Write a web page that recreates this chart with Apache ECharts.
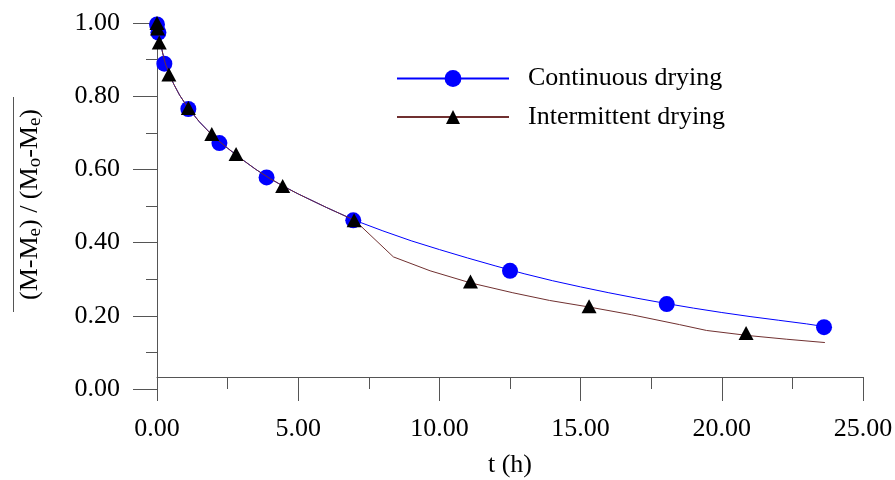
<!DOCTYPE html>
<html>
<head>
<meta charset="utf-8">
<script src="https://cdn.jsdelivr.net/npm/echarts@6/dist/echarts.min.js"></script>
<style>
html,body{margin:0;padding:0;background:#fff;}
#chart{width:895px;height:480px;}
</style>
</head>
<body>
<div id="chart"></div>
<script>
// Experimental points
const contT = [0, 0.05, 0.26, 1.11, 2.21, 3.88, 6.95, 12.5, 18.05, 23.62];
const contV = [0.996, 0.974, 0.889, 0.765, 0.672, 0.578, 0.461, 0.323, 0.232, 0.169];
const intT = [0, 0.02, 0.08, 0.42, 1.11, 1.94, 2.80, 4.45, 6.98, 11.1, 15.3, 20.86];
const intV = [1.0, 0.985, 0.947, 0.859, 0.768, 0.697, 0.642, 0.555, 0.461, 0.294, 0.226, 0.153];
// Model curves
const contLineT = [0,0.05,0.1,0.2,0.3,0.45,0.6,0.8,1.1,1.5,2,2.5,3,3.5,4,4.5,5,6,7,8,9,10,11,12,13,14,15,16,17,18,19,20,21,22,23,23.6];
const contLineV = [1.0,0.975,0.955,0.918,0.888,0.857,0.832,0.803,0.768,0.73,0.69,0.658,0.628,0.6,0.575,0.553,0.533,0.496,0.461,0.432,0.405,0.381,0.358,0.336,0.315,0.296,0.279,0.263,0.248,0.234,0.221,0.209,0.198,0.188,0.178,0.171];
const intLineT = [0,0.05,0.1,0.2,0.3,0.45,0.6,0.8,1.1,1.5,2,2.5,3,3.5,4,4.5,5,6,7,8.37,9.67,11.1,12.6,13.9,15.3,16.8,18.5,19.46,20.95,22.3,23.65];
const intLineV = [1.0,0.975,0.955,0.918,0.888,0.857,0.832,0.803,0.768,0.73,0.69,0.658,0.628,0.6,0.575,0.553,0.533,0.496,0.461,0.361,0.323,0.29,0.263,0.242,0.224,0.203,0.176,0.16,0.146,0.136,0.127];
// Axis ticks
const yMajor = [0, 0.2, 0.4, 0.6, 0.8, 1.0];
const yMinor = [0.1, 0.3, 0.5, 0.7, 0.9];
const seriesNames = ['Continuous drying', 'Intermittent drying'];

const zip = (a, b) => a.map((v, i) => [v, b[i]]);
const FONT = "'Liberation Serif','Times New Roman',serif";
const AX = '#555';

const chart = echarts.init(document.getElementById('chart'), null, {renderer: 'canvas'});
chart.setOption({
  animation: false,
  backgroundColor: '#fff',
  grid: {left: 157, right: 32, top: 23, height: 377, outerBoundsMode: 'none', containLabel: false},
  legend: [
    {data: [seriesNames[0]], left: 396, top: 65.5, padding: 0, itemWidth: 112, itemHeight: 21,
     selectedMode: false, textStyle: {fontFamily: FONT, fontSize: 26, color: '#000', padding: [0, 0, 0, 14]}},
    {data: [seriesNames[1]], left: 396, top: 104, padding: 0, itemWidth: 112, itemHeight: 17.5,
     selectedMode: false, textStyle: {fontFamily: FONT, fontSize: 26, color: '#000', padding: [0, 0, 0, 14]}}
  ],
  xAxis: {
    type: 'value', min: 0, max: 25, interval: 5, offset: -23,
    name: 't (h)', nameLocation: 'middle', nameGap: 75,
    nameTextStyle: {fontFamily: FONT, fontSize: 26, color: '#000'},
    axisLine: {onZero: false, lineStyle: {color: AX, width: 1}},
    axisTick: {length: 24, lineStyle: {color: AX}},
    minorTick: {show: true, splitNumber: 2, length: 12, lineStyle: {color: AX}},
    axisLabel: {margin: 39, fontFamily: FONT, fontSize: 26, color: '#000', formatter: v => v.toFixed(2)},
    splitLine: {show: false}
  },
  yAxis: [
    {
      type: 'value', min: -0.03, max: 1.0, position: 'left',
      name: '{ol|}\n{t|(M-M}{s|e}{t|) / (M}{s|o}{t|-M}{s|e}{t|)}',
      nameLocation: 'middle', nameGap: 112,
      nameTextStyle: {
        fontFamily: FONT, fontSize: 26, color: '#000', padding: [0, 0, 0, 14],
        rich: {
          ol: {width: 215, height: 1, lineHeight: 3, backgroundColor: '#555'},
          t: {fontFamily: FONT, fontSize: 26, lineHeight: 30, color: '#000'},
          s: {fontFamily: FONT, fontSize: 19, lineHeight: 19, verticalAlign: 'bottom', color: '#000'}
        }
      },
      axisLine: {onZero: false, lineStyle: {color: AX, width: 1}},
      axisTick: {length: 24, customValues: yMajor, lineStyle: {color: AX}},
      axisLabel: {margin: 37, customValues: yMajor, fontFamily: FONT, fontSize: 26, color: '#000', formatter: v => v.toFixed(2)},
      splitLine: {show: false}
    },
    {
      type: 'value', min: -0.03, max: 1.0, position: 'left',
      axisLine: {show: false, onZero: false},
      axisTick: {length: 11, customValues: yMinor, lineStyle: {color: AX}},
      axisLabel: {show: false},
      splitLine: {show: false}
    }
  ],
  series: [
    {name: seriesNames[0], type: 'line', data: zip(contLineT, contLineV), symbol: 'circle', showSymbol: false,
     lineStyle: {color: '#0000ff', width: 1}, itemStyle: {color: '#0000ff'}, silent: true, z: 3},
    {name: seriesNames[1], type: 'line', data: zip(intLineT, intLineV), symbol: 'triangle', showSymbol: false,
     lineStyle: {color: '#703030', width: 1}, itemStyle: {color: '#000'}, silent: true, z: 3},
    {name: 'cont-pts', type: 'scatter', data: zip(contT, contV), symbol: 'circle', symbolSize: 16,
     itemStyle: {color: '#0000ff', opacity: 1}, silent: true, z: 2},
    {name: 'int-pts', type: 'scatter', data: zip(intT, intV), symbol: 'triangle', symbolSize: [15, 14],
     itemStyle: {color: '#000', opacity: 1}, silent: true, z: 4}
  ]
});
</script>
</body>
</html>
